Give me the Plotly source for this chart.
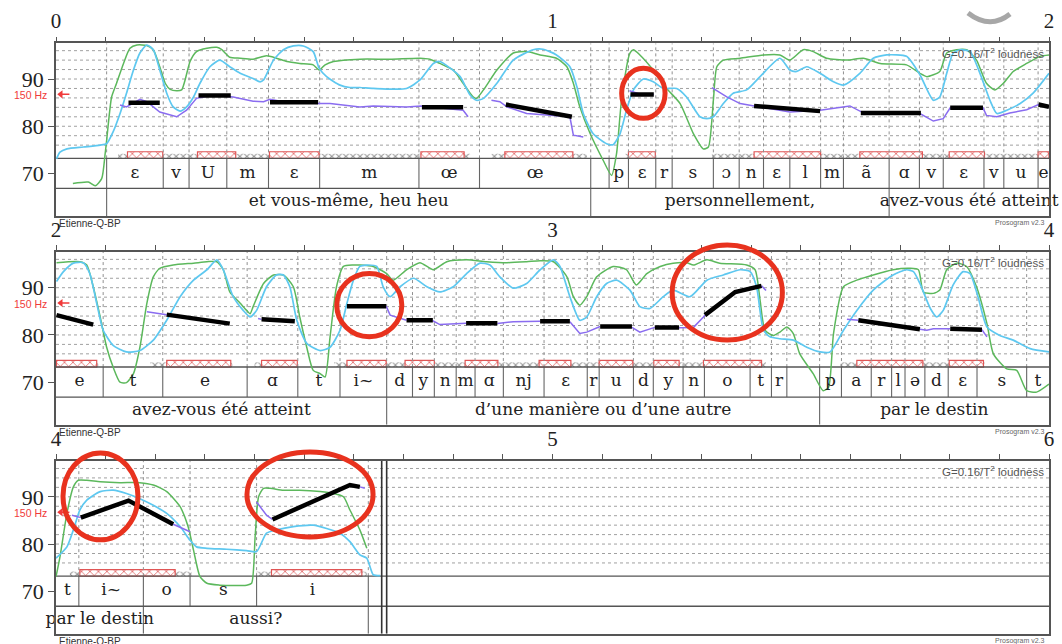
import plotly.graph_objects as go

# ---------------- layout constants (pixels of the reference) ----------------
W, H = 1062, 644
FRAME_LEFT, FRAME_RIGHT = 56, 1049
ROW_PX = [(43.3, 216.0), (252.0, 424.7), (461.1, 633.8)]   # frame top / bottom
ROW_SPAN = [(0.0, 2.0), (2.0, 4.0), (4.0, 6.0)]
Y_MIN, Y_MAX = 61.0, 97.56          # semitones (re 1 Hz) covered by a row frame
PITCH_FLOOR, PHON_FLOOR = 73.2, 66.84
GRID_ST = [76, 78, 80, 82, 84, 86, 88, 90, 92, 94, 96]
HZ150_ST = 86.75
Y_TICKS = [70, 80, 90]

# ---------------- tiers ----------------
PHON1_T = [0.102, 0.216, 0.268, 0.344, 0.428, 0.531, 0.731, 0.853, 1.077, 1.114, 1.153, 1.208, 1.241,
           1.324, 1.376, 1.425, 1.478, 1.540, 1.586, 1.678, 1.739, 1.787, 1.869, 1.909, 1.978, 2.0]
PHON1_LAB = ['ɛ', 'v', 'U', 'm', 'ɛ', 'm', 'œ', 'œ', '', 'p', 'ɛ', 'r', 's', 'ɔ', 'n', 'ɛ', 'l', 'm',
             'ã', 'ɑ', 'v', 'ɛ', 'v', 'u', 'e']
PHON2_T = [2.0, 2.095, 2.215, 2.385, 2.487, 2.572, 2.666, 2.718, 2.762, 2.806, 2.844, 2.901, 2.983, 3.070,
           3.094, 3.163, 3.203, 3.263, 3.306, 3.398, 3.441, 3.472, 3.538, 3.582, 3.642, 3.683, 3.710,
           3.750, 3.797, 3.855, 3.955, 4.0]
PHON2_LAB = ['e', 't', 'e', 'ɑ', 't', 'i~', 'd', 'y', 'n', 'm', 'ɑ', 'nj', 'ɛ', 'r', 'u', 'd', 'y', 'n',
             'o', 't', 'r', '', 'p', 'a', 'r', 'l', 'ə', 'd', 'ɛ', 's', 't']
PHON3_T = [4.0, 4.046, 4.176, 4.270, 4.404, 4.629]
PHON3_LAB = ['t', 'i~', 'o', 's', 'i']

WORD1_T = [0.102, 1.077, 1.678, 2.0]
WORD1_LAB = ['et vous-même, heu heu', 'personnellement,', 'avez-vous été atteint']
WORD2_T = [2.0, 2.666, 3.538, 4.0]
WORD2_LAB = ['avez-vous été atteint', 'd’une manière ou d’une autre', 'par le destin']
WORD3_T = [4.0, 4.176, 4.629]
WORD3_LAB = ['par le destin', 'aussi?']

# ---------------- intensity (green) ----------------
GREEN1_T = [0.034, 0.065, 0.079, 0.092, 0.099, 0.102, 0.112, 0.122, 0.136, 0.149,
            0.163, 0.183, 0.196, 0.209, 0.220, 0.230, 0.243, 0.253, 0.260, 0.270,
            0.283, 0.304, 0.324, 0.334, 0.350, 0.371, 0.397, 0.424, 0.444, 0.465,
            0.491, 0.518, 0.530, 0.542, 0.559, 0.612, 0.673, 0.733, 0.753, 0.773,
            0.800, 0.820, 0.840, 0.847, 0.861, 0.888, 0.921, 0.948, 0.975, 1.008,
            1.029, 1.042, 1.055, 1.076, 1.102, 1.119, 1.129, 1.139, 1.156, 1.163,
            1.176, 1.203, 1.230, 1.257, 1.284, 1.304, 1.314, 1.324, 1.331, 1.344,
            1.378, 1.425, 1.458, 1.478, 1.505, 1.525, 1.552, 1.593, 1.626, 1.660,
            1.713, 1.740, 1.754, 1.780, 1.794, 1.814, 1.834, 1.854, 1.874, 1.891,
            1.908, 1.928, 1.955, 1.982, 2.0]
GREEN1_V = [67.9, 68.2, 67.4, 68.9, 74.2, 77.0, 86.2, 89.1, 93.3, 96.5,
            97.2, 97.1, 96.2, 92.6, 89.1, 87.8, 87.5, 87.7, 89.8, 93.7,
            95.8, 96.5, 96.7, 96.2, 94.6, 94.4, 94.2, 94.9, 94.4, 93.7,
            93.3, 93.0, 91.9, 93.0, 93.7, 94.2, 94.2, 94.4, 94.2, 93.3,
            91.9, 89.1, 86.2, 85.9, 87.7, 91.9, 95.5, 95.8, 95.1, 94.4,
            92.6, 89.1, 84.1, 78.4, 72.8, 69.6, 74.2, 85.5, 95.5, 96.2,
            95.1, 91.9, 88.0, 84.8, 78.4, 75.2, 75.6, 85.5, 92.6, 94.0,
            94.4, 95.1, 95.1, 94.0, 96.2, 95.8, 94.4, 94.0, 94.4, 93.3,
            93.0, 91.2, 90.5, 91.6, 95.5, 96.2, 96.2, 94.0, 89.1, 87.7,
            89.1, 91.6, 93.3, 94.8, 95.1]
GREEN2_T = [2.001, 2.048, 2.062, 2.075, 2.089, 2.102, 2.115, 2.129, 2.142, 2.156,
            2.169, 2.183, 2.196, 2.209, 2.236, 2.277, 2.304, 2.324, 2.337, 2.350,
            2.371, 2.384, 2.391, 2.397, 2.418, 2.438, 2.458, 2.478, 2.491, 2.505,
            2.518, 2.532, 2.542, 2.552, 2.565, 2.579, 2.599, 2.612, 2.639, 2.666,
            2.679, 2.706, 2.733, 2.760, 2.787, 2.827, 2.867, 2.908, 2.948, 2.975,
            3.002, 3.029, 3.042, 3.055, 3.069, 3.089, 3.122, 3.149, 3.169, 3.190,
            3.217, 3.243, 3.270, 3.284, 3.311, 3.337, 3.391, 3.408, 3.418, 3.428,
            3.445, 3.458, 3.472, 3.485, 3.498, 3.525, 3.545, 3.556, 3.566, 3.586,
            3.613, 3.646, 3.686, 3.720, 3.737, 3.747, 3.767, 3.780, 3.794, 3.814,
            3.834, 3.854, 3.875, 3.888, 3.915, 3.935, 3.955, 3.975, 4.0]
GREEN2_V = [95.3, 95.5, 94.8, 90.2, 83.8, 77.4, 73.2, 70.0, 69.9, 71.8,
            77.4, 86.7, 92.3, 94.1, 94.8, 95.2, 95.5, 95.5, 93.8, 89.1,
            86.7, 85.2, 84.5, 86.0, 90.9, 92.7, 92.7, 90.2, 83.8, 77.4,
            72.5, 71.8, 71.1, 79.6, 90.2, 94.5, 94.8, 94.8, 94.5, 93.0,
            91.6, 93.8, 95.3, 93.8, 95.5, 95.9, 95.5, 95.3, 95.5, 95.7,
            95.5, 92.3, 88.1, 86.3, 88.1, 92.3, 94.5, 93.8, 90.6, 93.0,
            94.5, 95.2, 95.3, 94.8, 95.9, 95.2, 94.8, 93.8, 87.4, 81.0,
            79.9, 80.6, 81.7, 80.3, 76.0, 71.8, 68.2, 68.9, 80.3, 90.2,
            91.6, 92.7, 93.8, 94.1, 93.8, 89.1, 88.8, 89.5, 93.8, 95.2,
            94.5, 90.2, 82.4, 76.0, 72.8, 72.5, 68.2, 67.9, 69.6]
GREEN3_T = [4.0, 4.008, 4.022, 4.035, 4.045, 4.062, 4.089, 4.129, 4.169, 4.196,
            4.223, 4.250, 4.266, 4.277, 4.290, 4.304, 4.330, 4.357, 4.384, 4.394,
            4.401, 4.408, 4.418, 4.431, 4.458, 4.491, 4.532, 4.559, 4.579, 4.592,
            4.612, 4.626]
GREEN3_V = [73.1, 77.3, 86.5, 92.1, 93.5, 93.5, 93.2, 93.0, 93.0, 92.5,
            91.1, 87.9, 83.7, 78.7, 73.1, 71.7, 71.3, 71.2, 71.3, 71.7,
            81.5, 90.0, 91.8, 91.8, 91.4, 91.4, 91.1, 90.7, 90.0, 87.2,
            83.0, 79.1]

# ---------------- loudness (cyan) ----------------
CYAN1_T = [0.001, 0.008, 0.022, 0.055, 0.089, 0.102, 0.115, 0.129, 0.142, 0.156,
           0.169, 0.183, 0.196, 0.209, 0.223, 0.236, 0.250, 0.263, 0.277, 0.290,
           0.310, 0.330, 0.350, 0.371, 0.397, 0.411, 0.418, 0.438, 0.458, 0.478,
           0.498, 0.518, 0.530, 0.545, 0.572, 0.592, 0.612, 0.639, 0.706, 0.733,
           0.760, 0.773, 0.794, 0.814, 0.834, 0.847, 0.861, 0.888, 0.921, 0.961,
           0.981, 1.008, 1.035, 1.049, 1.062, 1.082, 1.109, 1.122, 1.136, 1.149,
           1.163, 1.183, 1.203, 1.223, 1.250, 1.270, 1.297, 1.311, 1.324, 1.344,
           1.364, 1.391, 1.418, 1.458, 1.478, 1.492, 1.512, 1.539, 1.566, 1.586,
           1.619, 1.646, 1.673, 1.713, 1.740, 1.767, 1.780, 1.794, 1.807, 1.821,
           1.841, 1.861, 1.881, 1.895, 1.915, 1.942, 1.968, 2.0]
CYAN1_V = [73.1, 74.5, 75.2, 75.6, 76.0, 76.3, 78.8, 82.7, 87.0, 91.9,
           95.5, 97.2, 96.2, 91.9, 87.0, 84.1, 83.2, 84.1, 86.2, 89.1,
           92.6, 94.0, 92.6, 91.2, 90.1, 89.4, 89.8, 94.0, 96.2, 97.0,
           97.0, 95.8, 92.3, 90.5, 88.7, 88.2, 88.2, 88.0, 88.0, 89.8,
           93.3, 93.7, 92.3, 90.5, 86.6, 85.5, 85.9, 89.1, 94.0, 96.2,
           96.3, 95.1, 92.6, 88.4, 82.7, 78.4, 76.3, 76.1, 78.4, 83.4,
           87.7, 90.0, 89.4, 88.0, 88.0, 86.2, 82.0, 81.6, 82.0, 84.8,
           87.0, 87.7, 90.5, 94.4, 91.9, 91.6, 92.6, 91.2, 89.4, 88.7,
           91.2, 94.4, 95.1, 94.8, 90.9, 85.5, 86.2, 91.2, 95.5, 96.2,
           95.8, 91.2, 85.5, 82.7, 83.4, 84.8, 87.0, 91.2]
CYAN2_T = [2.001, 2.015, 2.035, 2.055, 2.068, 2.082, 2.095, 2.115, 2.142, 2.169,
           2.196, 2.223, 2.250, 2.277, 2.304, 2.324, 2.337, 2.357, 2.377, 2.391,
           2.404, 2.424, 2.444, 2.458, 2.471, 2.485, 2.505, 2.532, 2.552, 2.572,
           2.586, 2.599, 2.612, 2.626, 2.646, 2.659, 2.673, 2.693, 2.720, 2.747,
           2.773, 2.800, 2.827, 2.854, 2.874, 2.894, 2.921, 2.948, 2.975, 3.002,
           3.015, 3.035, 3.055, 3.069, 3.089, 3.109, 3.129, 3.156, 3.176, 3.196,
           3.223, 3.243, 3.277, 3.311, 3.344, 3.378, 3.398, 3.411, 3.425, 3.438,
           3.458, 3.485, 3.512, 3.539, 3.559, 3.586, 3.613, 3.646, 3.686, 3.713,
           3.727, 3.740, 3.761, 3.774, 3.787, 3.807, 3.827, 3.841, 3.857, 3.875,
           3.901, 3.928, 3.962, 4.0]
CYAN2_V = [91.3, 93.4, 95.2, 95.3, 93.0, 86.7, 81.0, 77.8, 76.4, 76.7,
           78.9, 83.1, 88.1, 91.6, 93.8, 95.9, 93.8, 88.1, 85.2, 83.8,
           85.2, 90.2, 92.7, 92.7, 90.2, 83.1, 78.2, 76.7, 77.4, 81.0,
           86.7, 91.6, 94.5, 94.8, 94.5, 90.2, 88.1, 90.2, 92.0, 90.2,
           89.1, 90.2, 93.0, 95.2, 94.8, 92.3, 89.9, 90.9, 93.8, 95.9,
           94.5, 88.1, 83.1, 83.8, 88.1, 90.9, 91.6, 89.5, 86.0, 85.6,
           88.1, 89.5, 88.1, 91.6, 92.7, 93.8, 93.4, 90.2, 81.0, 79.6,
           79.2, 78.9, 77.4, 76.4, 76.4, 81.0, 85.2, 89.5, 92.7, 93.8,
           93.4, 90.9, 85.6, 83.8, 85.2, 90.6, 93.4, 93.0, 88.1, 81.7,
           79.9, 78.9, 77.1, 76.4]
CYAN3_T = [4.0, 4.022, 4.035, 4.048, 4.062, 4.089, 4.115, 4.142, 4.169, 4.196,
           4.223, 4.250, 4.270, 4.283, 4.304, 4.344, 4.384, 4.404, 4.424, 4.444,
           4.478, 4.518, 4.545, 4.572, 4.592, 4.612, 4.626, 4.639, 4.653]
CYAN3_V = [77.0, 79.4, 83.0, 87.2, 89.3, 91.1, 91.4, 90.7, 89.6, 88.2,
           86.5, 83.7, 80.8, 79.4, 79.1, 78.9, 78.6, 78.4, 82.3, 83.0,
           83.7, 84.0, 83.3, 82.3, 80.5, 77.7, 77.0, 73.5, 73.3]

# ---------------- pitch contour (purple), pieces ----------------
PURPLE1 = [
    ([0.129, 0.142, 0.169, 0.183, 0.209, 0.243, 0.263, 0.283, 0.317, 0.357, 0.397, 0.418, 0.431,
      0.458, 0.530, 0.552, 0.612, 0.639, 0.706, 0.735, 0.820, 0.830],
     [84.5, 84.1, 85.7, 85.2, 83.0, 82.0, 83.4, 85.9, 86.6, 86.2, 85.3, 85.2, 85.7,
      85.2, 84.8, 84.8, 84.1, 84.3, 84.1, 84.3, 83.4, 82.0]),
    ([0.877, 0.894, 0.908, 0.948, 1.035, 1.042, 1.062], [85.5, 85.2, 84.1, 82.7, 82.0, 78.1, 77.7]),
    ([1.155, 1.180, 1.204], [87.5, 86.7, 86.7]),
    ([1.321, 1.351, 1.378, 1.406, 1.478, 1.539, 1.579, 1.599, 1.623, 1.740, 1.767, 1.787, 1.801,
      1.867, 1.874, 1.895, 1.921, 1.955, 1.979, 2.0],
     [88.2, 86.2, 84.8, 84.3, 83.0, 83.4, 84.0, 84.3, 83.0, 82.7, 81.1, 81.6, 83.9,
      83.9, 82.3, 82.0, 82.8, 83.5, 84.6, 84.3]),
]
PURPLE2 = [
    ([2.183, 2.223], [84.9, 84.3]),
    ([2.407, 2.414], [83.5, 83.3]),
    ([2.665, 2.673, 2.706], [86.1, 84.2, 83.1]),
    ([2.759, 2.773, 2.826], [83.0, 82.2, 82.5]),
    ([2.889, 2.921, 2.975], [82.4, 82.8, 82.9]),
    ([3.035, 3.055, 3.069, 3.096], [82.8, 80.3, 80.6, 81.8]),
    ([3.160, 3.176, 3.206], [81.6, 80.6, 81.6]),
    ([3.255, 3.284, 3.304, 3.307], [81.5, 81.6, 83.8, 84.2]),
    ([3.421, 3.430], [90.4, 89.4]),
    ([3.593, 3.616], [83.3, 83.1]),
    ([3.740, 3.754, 3.767, 3.787, 3.801], [81.2, 81.0, 81.3, 81.3, 81.3]),
    ([3.865, 3.875], [81.1, 79.6]),
]
PURPLE3 = [
    ([4.032, 4.050], [86.1, 85.6]),
    ([4.236, 4.270], [84.2, 82.6]),
    ([4.404, 4.424, 4.436], [88.9, 86.1, 85.2]),
    ([4.612, 4.622], [92.1, 91.8]),
]

# ---------------- stylized pitch (black) ----------------
STYL1 = [([0.146, 0.209], [85.0, 85.0]), ([0.287, 0.352], [86.5, 86.5]), ([0.431, 0.528], [85.1, 85.1]),
         ([0.737, 0.820], [84.0, 84.0]), ([0.906, 1.039], [84.6, 82.0]), ([1.157, 1.204], [86.7, 86.7]),
         ([1.406, 1.539], [84.3, 83.2]), ([1.621, 1.742], [82.8, 82.8]), ([1.801, 1.867], [83.9, 83.9]),
         ([1.979, 2.0], [84.6, 84.1])]
STYL2 = [([2.001, 2.075], [84.2, 82.2]), ([2.223, 2.350], [84.3, 82.4]), ([2.414, 2.481], [83.3, 82.9]),
         ([2.586, 2.665], [86.1, 86.1]), ([2.706, 2.759], [83.1, 83.1]), ([2.826, 2.889], [82.5, 82.5]),
         ([2.975, 3.035], [82.9, 82.9]), ([3.096, 3.160], [81.8, 81.8]), ([3.206, 3.255], [81.6, 81.6]),
         ([3.307, 3.368, 3.421], [84.2, 89.1, 90.4]), ([3.616, 3.740], [83.1, 81.2]),
         ([3.801, 3.865], [81.3, 81.1])]
STYL3 = [([4.050, 4.146, 4.236], [85.6, 89.2, 84.2]), ([4.436, 4.592, 4.612], [85.2, 92.5, 92.1])]

# ---------------- voiced stretches and syllable nuclei ----------------
VOICED1 = [(0.125, 0.834), (0.877, 1.069), (1.146, 1.208), (1.321, 2.0)]
VOICED2 = [(2.0, 2.085), (2.19, 2.355), (2.40, 2.485), (2.56, 3.43), (3.58, 3.87)]
VOICED3 = [(4.028, 4.273), (4.404, 4.626)]
NUCLEI1 = [(0.144, 0.215), (0.285, 0.362), (0.430, 0.530), (0.735, 0.822), (0.904, 1.041),
           (1.153, 1.207), (1.406, 1.540), (1.619, 1.745), (1.799, 1.870), (1.978, 2.0)]
NUCLEI2 = [(2.001, 2.082), (2.223, 2.352), (2.414, 2.486), (2.586, 2.665), (2.703, 2.762),
           (2.824, 2.890), (2.973, 3.037), (3.094, 3.162), (3.204, 3.255), (3.304, 3.421),
           (3.613, 3.746), (3.799, 3.868)]
NUCLEI3 = [(4.048, 4.240), (4.434, 4.616)]

# ---------------- highlight circles: row, centre time, centre ST, half-width (s), half-height (ST)
CIRCLES = [(0, 1.183, 86.97, 0.0437, 5.3),
           (1, 2.631, 86.3, 0.0655, 6.7),
           (1, 3.352, 89.0, 0.111, 10.06),
           (2, 4.0896, 90.1, 0.0755, 9.2),
           (2, 4.5116, 90.5, 0.127, 9.0)]
DOUBLE_BAR_T = [4.656, 4.666]

ROWS = [
    dict(phon_t=PHON1_T, phon_lab=PHON1_LAB, word_t=WORD1_T, word_lab=WORD1_LAB,
         green=(GREEN1_T, GREEN1_V), cyan=(CYAN1_T, CYAN1_V), purple=PURPLE1, styl=STYL1,
         voiced=VOICED1, nuclei=NUCLEI1),
    dict(phon_t=PHON2_T, phon_lab=PHON2_LAB, word_t=WORD2_T, word_lab=WORD2_LAB,
         green=(GREEN2_T, GREEN2_V), cyan=(CYAN2_T, CYAN2_V), purple=PURPLE2, styl=STYL2,
         voiced=VOICED2, nuclei=NUCLEI2),
    dict(phon_t=PHON3_T, phon_lab=PHON3_LAB, word_t=WORD3_T, word_lab=WORD3_LAB,
         green=(GREEN3_T, GREEN3_V), cyan=(CYAN3_T, CYAN3_V), purple=PURPLE3, styl=STYL3,
         voiced=VOICED3, nuclei=NUCLEI3),
]

GREEN = '#5cb85c'
CYAN = '#5ec8f0'
PURPLE = '#8a6cf0'
RED = '#e8321e'
FRAME = '#555555'
SERIF = 'DejaVu Serif'
NUM_FONT = 'Liberation Serif'
SANS = 'Liberation Sans'


def join(pieces):
    xs, ys = [], []
    for t, v in pieces:
        xs += list(t) + [None]
        ys += list(v) + [None]
    return xs, ys


def vsegs(times, y0, y1):
    xs, ys = [], []
    for t in times:
        xs += [t, t, None]
        ys += [y0, y1, None]
    return xs, ys


def hsegs(levels, x0, x1):
    xs, ys = [], []
    for v in levels:
        xs += [x0, x1, None]
        ys += [v, v, None]
    return xs, ys


fig = go.Figure()
layout = dict(width=W, height=H, margin=dict(l=0, r=0, t=0, b=0, autoexpand=False),
              paper_bgcolor='white', plot_bgcolor='white', showlegend=False,
              barmode='overlay')
shapes, annotations = [], []

for i, row in enumerate(ROWS):
    xn = 'x' if i == 0 else f'x{i + 1}'
    yn = 'y' if i == 0 else f'y{i + 1}'
    top_px, bot_px = ROW_PX[i]
    d0, d1 = 1 - bot_px / H, 1 - top_px / H
    s, e = ROW_SPAN[i]

    def to_paper(v, d0=d0, d1=d1):
        return d0 + (v - Y_MIN) / (Y_MAX - Y_MIN) * (d1 - d0)

    tickvals = [round(s + k * 0.1, 3) for k in range(21)]
    ticktext = [str(int(round(t))) if abs(t - round(t)) < 1e-6 else ' ' for t in tickvals]
    layout['xaxis' if i == 0 else f'xaxis{i + 1}'] = dict(
        domain=[FRAME_LEFT / W, FRAME_RIGHT / W], range=[s, e], anchor=yn, side='top',
        automargin=False,
        showline=True, mirror=True, linecolor=FRAME, linewidth=1.5,
        ticks='outside', ticklen=5, tickwidth=1.2, tickcolor=FRAME,
        tickmode='array', tickvals=tickvals, ticktext=ticktext,
        tickfont=dict(family=NUM_FONT, size=21, color='#222'),
        showgrid=False, zeroline=False, fixedrange=True)
    layout['yaxis' if i == 0 else f'yaxis{i + 1}'] = dict(
        domain=[d0, d1], range=[Y_MIN, Y_MAX], anchor=xn, automargin=False,
        showline=True, mirror=True, linecolor=FRAME, linewidth=1.5,
        ticks='outside', ticklen=6, tickwidth=1.2, tickcolor=FRAME,
        tickmode='array', tickvals=Y_TICKS, ticktext=[str(v) for v in Y_TICKS],
        tickfont=dict(family=NUM_FONT, size=22, color='#222'),
        showgrid=False, zeroline=False, fixedrange=True)

    def add(tr):
        tr.update(xaxis=xn, yaxis=yn, hoverinfo='skip')
        fig.add_trace(tr)

    # horizontal dotted grid
    gx, gy = hsegs(GRID_ST, s, e)
    add(go.Scatter(x=gx, y=gy, mode='lines', line=dict(color='#a0a0a0', width=1, dash='dot')))
    # internal phoneme boundaries
    inner = [t for t in row['phon_t'] if s < t < e]
    vx, vy = vsegs(inner, PITCH_FLOOR, Y_MAX)
    add(go.Scatter(x=vx, y=vy, mode='lines', line=dict(color='#909090', width=1, dash='dot')))
    vx, vy = vsegs(inner, PHON_FLOOR, PITCH_FLOOR)
    add(go.Scatter(x=vx, y=vy, mode='lines', line=dict(color='#666', width=1.1)))
    winner = [t for t in row['word_t'] if s < t < e]
    vx, vy = vsegs(winner, Y_MIN, PHON_FLOOR)
    add(go.Scatter(x=vx, y=vy, mode='lines', line=dict(color='#666', width=1.1)))
    # tier separators
    hx, hy = hsegs([PITCH_FLOOR, PHON_FLOOR], s, e)
    add(go.Scatter(x=hx, y=hy, mode='lines', line=dict(color='#555', width=1.4)))

    # voiced stretches (grey zigzag) and nuclei (red hatched boxes)
    vs = row['voiced']
    add(go.Bar(x=[(a + b) / 2 for a, b in vs], width=[b - a for a, b in vs], base=PITCH_FLOOR,
               y=[1.0] * len(vs),
               marker=dict(color='white', line=dict(width=0),
                           pattern=dict(shape='x', fgcolor='#909090', bgcolor='white',
                                        size=5, solidity=0.35, fillmode='replace'))))
    nu = row['nuclei']
    add(go.Bar(x=[(a + b) / 2 for a, b in nu], width=[b - a for a, b in nu], base=PITCH_FLOOR,
               y=[1.4] * len(nu),
               marker=dict(color='white', line=dict(color='#e05555', width=1.2),
                           pattern=dict(shape='x', fgcolor='#e06060', bgcolor='white',
                                        size=6, solidity=0.25, fillmode='replace'))))

    # curves
    add(go.Scatter(x=row['green'][0], y=row['green'][1], mode='lines',
                   line=dict(color=GREEN, width=1.5, shape='spline', smoothing=0.6)))
    add(go.Scatter(x=row['cyan'][0], y=row['cyan'][1], mode='lines',
                   line=dict(color=CYAN, width=1.7, shape='spline', smoothing=0.6)))
    px_, py_ = join(row['purple'])
    add(go.Scatter(x=px_, y=py_, mode='lines', line=dict(color=PURPLE, width=1.5)))
    sx, sy = join(row['styl'])
    add(go.Scatter(x=sx, y=sy, mode='lines', line=dict(color='black', width=4.5)))

    # 150 Hz marker
    add(go.Scatter(x=[s + 0.010, s + 0.027], y=[HZ150_ST, HZ150_ST], mode='lines',
                   line=dict(color='#f03a3a', width=1.5)))
    add(go.Scatter(x=[s + 0.0095], y=[HZ150_ST], mode='markers', cliponaxis=False,
                   marker=dict(symbol='triangle-left', size=7, color='#f03a3a')))
    annotations.append(dict(text='150 Hz', xref='paper', x=49 / W, xanchor='right', yref=yn,
                            y=HZ150_ST - 0.2, showarrow=False,
                            font=dict(family=SANS, size=10.5, color='#f03a3a')))

    # tier labels
    pt, pl = row['phon_t'], row['phon_lab']
    add(go.Scatter(x=[(pt[k] + pt[k + 1]) / 2 for k in range(len(pl))],
                   y=[(PITCH_FLOOR + PHON_FLOOR) / 2] * len(pl), text=pl, mode='text',
                   cliponaxis=False, textfont=dict(family=SERIF, size=17, color='#222')))
    wt, wl = row['word_t'], row['word_lab']
    add(go.Scatter(x=[(wt[k] + wt[k + 1]) / 2 for k in range(len(wl))],
                   y=[(PHON_FLOOR + Y_MIN) / 2] * len(wl), text=wl, mode='text',
                   cliponaxis=False, textfont=dict(family=SERIF, size=17, color='#222')))

    # captions
    annotations.append(dict(text='G=0.16/T<sup>2</sup> loudness', xref='paper', x=(FRAME_RIGHT - 3) / W,
                            xanchor='right', yref='paper', y=1 - (top_px + 10) / H, yanchor='middle',
                            showarrow=False, font=dict(family=SANS, size=11.5, color='#555')))
    annotations.append(dict(text='Etienne-Q-BP', xref='paper', x=(FRAME_LEFT + 1) / W, xanchor='left',
                            yref='paper', y=1 - (bot_px + 0.5) / H, yanchor='top', showarrow=False,
                            font=dict(family=SANS, size=10, color='#333')))
    annotations.append(dict(text='Prosogram v2.3', xref='paper', x=(FRAME_RIGHT - 2) / W, xanchor='right',
                            yref='paper', y=1 - (bot_px + 1) / H, yanchor='top', showarrow=False,
                            font=dict(family=SANS, size=7, color='#666')))

    for (r, tc, vc, dt, dv) in CIRCLES:
        if r != i:
            continue
        shapes.append(dict(type='circle', xref=xn, yref='paper', x0=tc - dt, x1=tc + dt,
                           y0=to_paper(vc - dv), y1=to_paper(vc + dv),
                           line=dict(color=RED, width=5), layer='above'))

    if i == 2:
        bx, by = vsegs(DOUBLE_BAR_T, Y_MIN, Y_MAX)
        add(go.Scatter(x=bx, y=by, mode='lines', line=dict(color='#333', width=1.6)))

# grey swoosh artefact at top right
shapes.append(dict(type='path', xref='paper', yref='paper',
                   path=f'M {968 / W},{1 - 13 / H} Q {990 / W},{1 - 30 / H} {1010 / W},{1 - 14 / H}',
                   line=dict(color='rgba(130,130,130,0.7)', width=5)))

layout['shapes'] = shapes
layout['annotations'] = annotations
fig.update_layout(**layout)
fig.write_html('out.html', config={'displayModeBar': False},
               post_script="document.body.style.margin='0';document.body.style.overflow='hidden';")
